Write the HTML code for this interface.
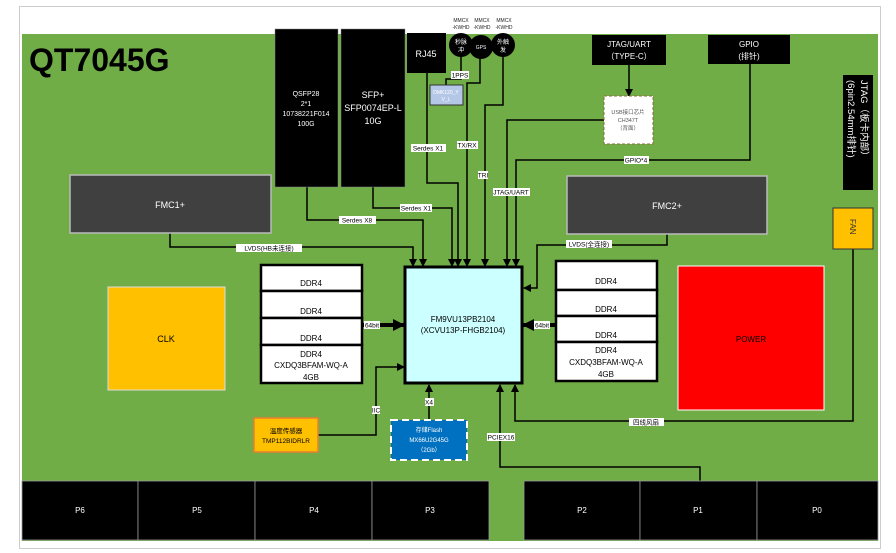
<!DOCTYPE html>
<html><head><meta charset="utf-8"><style>
body{margin:0;background:#fff}
svg{display:block;font-family:"Liberation Sans","Noto Sans CJK SC",sans-serif}
</style></head><body>
<svg width="896" height="553" viewBox="0 0 896 553">
<defs>
<marker id="a" markerWidth="8" markerHeight="8" refX="7" refY="4" orient="auto" markerUnits="userSpaceOnUse"><path d="M0,0 L8,4 L0,8 z" fill="#000"/></marker>
<marker id="b" markerWidth="12" markerHeight="12" refX="11" refY="6" orient="auto" markerUnits="userSpaceOnUse"><path d="M0,0 L12,6 L0,12 z" fill="#000"/></marker>
</defs>
<rect x="19.5" y="6.5" width="861" height="542" fill="#fff" stroke="#ccc"/>
<rect x="22" y="34" width="856" height="507" fill="#70ad47"/>
<text x="29" y="71" font-size="32" font-weight="bold" fill="#000">QT7045G</text>

<g stroke="#000" stroke-width="1.5" fill="none">
<polyline points="170,233 170,247 413,247 413,266" marker-end="url(#a)"/>
<polyline points="307,187 307,220 423,220 423,266" marker-end="url(#a)"/>
<polyline points="373,187 373,208 452,208 452,266" marker-end="url(#a)"/>
<polyline points="427,73 427,183 458,183 458,266" marker-end="url(#a)"/>
<polyline points="480,56 480,83 467,83 467,266" marker-end="url(#a)"/>
<polyline points="461,56 461,79 446,79 446,85"/>
<polyline points="503,56 503,105 485,105 485,266" marker-end="url(#a)"/>
<polyline points="604,120 507,120 507,266" marker-end="url(#a)"/>
<polyline points="750,64 750,160 516,160 516,266" marker-end="url(#a)"/>
<polyline points="629,65 629,96" marker-end="url(#a)"/>
<polyline points="667,234 667,245 537,245 537,288 524,288" marker-end="url(#a)"/>
<polyline points="318,435 376,435 376,367 404,367" marker-end="url(#a)"/>
<polyline points="429,420 429,385" marker-end="url(#a)"/>
<polyline points="700,481 700,467 500,467 500,385" marker-end="url(#a)"/>
<polyline points="853,249 853,421 515,421 515,385" marker-end="url(#a)"/>
</g>
<line x1="362" y1="325" x2="404" y2="325" stroke="#000" stroke-width="4" marker-end="url(#b)"/>
<line x1="556" y1="325" x2="523" y2="325" stroke="#000" stroke-width="4" marker-end="url(#b)"/>

<rect x="275" y="29" width="63" height="158" fill="#000" stroke="#888" stroke-width="0.5"/>
<g fill="#fff" font-size="7" text-anchor="middle"><text x="306" y="96">QSFP28</text><text x="306" y="106">2*1</text><text x="306" y="116">10738221F014</text><text x="306" y="126">100G</text></g>
<rect x="341" y="29" width="64" height="158" fill="#000" stroke="#888" stroke-width="0.5"/>
<g fill="#fff" font-size="9" text-anchor="middle"><text x="373" y="98">SFP+</text><text x="373" y="111">SFP0074EP-L</text><text x="373" y="124">10G</text></g>
<rect x="407" y="33" width="39" height="40" fill="#000"/>
<text x="426" y="57" fill="#fff" font-size="9" text-anchor="middle">RJ45</text>
<g font-size="5" fill="#222" text-anchor="middle"><text x="461" y="22">MMCX</text><text x="461" y="29">-KWHD</text><text x="482" y="22">MMCX</text><text x="482" y="29">-KWHD</text><text x="504" y="22">MMCX</text><text x="504" y="29">-KWHD</text></g>
<circle cx="461" cy="45" r="12" fill="#000"/><circle cx="481" cy="47" r="12" fill="#000"/><circle cx="503" cy="45" r="12" fill="#000"/>
<g fill="#fff" font-size="6" text-anchor="middle"><text x="461" y="44">秒脉</text><text x="461" y="52">冲</text><text x="481" y="49" font-size="5">GPS</text><text x="503" y="44">外触</text><text x="503" y="52">发</text></g>
<rect x="430" y="85" width="33" height="20" fill="#b4c7e7" stroke="#333"/>
<g font-size="5" fill="#fff" text-anchor="middle"><text x="446" y="94">DMK120_Y</text><text x="446" y="101">V_L</text></g>

<rect x="592" y="35" width="74" height="30" fill="#000"/>
<g fill="#fff" font-size="8" text-anchor="middle"><text x="629" y="47">JTAG/UART</text><text x="629" y="59">（TYPE-C）</text></g>
<rect x="708" y="35" width="82" height="29" fill="#000"/>
<g fill="#fff" font-size="8" text-anchor="middle"><text x="749" y="47">GPIO</text><text x="749" y="59">(排针)</text></g>
<rect x="604" y="96" width="49" height="48" fill="#fff" stroke="#8a6d3b" stroke-dasharray="3,2"/>
<g font-size="5.5" fill="#555" text-anchor="middle"><text x="628" y="114">USB接口芯片</text><text x="628" y="122">CH347T</text><text x="628" y="130">（背面）</text></g>
<rect x="843" y="75" width="30" height="115" fill="#000"/>
<text transform="translate(861,80) rotate(90)" fill="#fff" font-size="9.5">JTAG（板卡内部）</text>
<text transform="translate(848,80) rotate(90)" fill="#fff" font-size="9.5">(6pin2.54mm排针)</text>
<rect x="833" y="208" width="40" height="41" fill="#ffc000" stroke="#333"/>
<text transform="translate(850,219) rotate(90)" font-size="8" fill="#333">FAN</text>

<rect x="70" y="175" width="201" height="58" fill="#404040" stroke="#bbb" stroke-width="1.5"/>
<text x="170" y="208" fill="#fff" font-size="9" text-anchor="middle">FMC1+</text>
<rect x="567" y="176" width="200" height="58" fill="#404040" stroke="#bbb" stroke-width="1.5"/>
<text x="667" y="209" fill="#fff" font-size="9" text-anchor="middle">FMC2+</text>

<rect x="405" y="267" width="117" height="116" fill="#ccffff" stroke="#000" stroke-width="3"/>
<g font-size="8" text-anchor="middle"><text x="463" y="322">FM9VU13PB2104</text><text x="463" y="333">(XCVU13P-FHGB2104)</text></g>

<g fill="#fff" stroke="#000" stroke-width="2.5">
<rect x="261" y="265" width="101" height="26"/><rect x="261" y="291" width="101" height="27"/><rect x="261" y="318" width="101" height="27"/><rect x="261" y="345" width="101" height="38"/>
<rect x="556" y="261" width="101" height="29"/><rect x="556" y="290" width="101" height="26"/><rect x="556" y="316" width="101" height="26"/><rect x="556" y="342" width="101" height="39"/>
</g>
<g font-size="8" text-anchor="middle">
<text x="311" y="286">DDR4</text><text x="311" y="314">DDR4</text><text x="311" y="341">DDR4</text><text x="311" y="357">DDR4</text><text x="311" y="368">CXDQ3BFAM-WQ-A</text><text x="311" y="380">4GB</text>
<text x="606" y="284">DDR4</text><text x="606" y="312">DDR4</text><text x="606" y="338">DDR4</text><text x="606" y="353">DDR4</text><text x="606" y="365">CXDQ3BFAM-WQ-A</text><text x="606" y="377">4GB</text>
</g>

<rect x="108" y="287" width="117" height="103" fill="#ffc000" stroke="#ddd"/>
<text x="166" y="342" font-size="9" text-anchor="middle">CLK</text>
<rect x="678" y="266" width="146" height="144" fill="#f00" stroke="#fff"/>
<text x="751" y="342" font-size="8" text-anchor="middle">POWER</text>
<rect x="254" y="418" width="64" height="34" fill="#ffc000" stroke="#ed7d31" stroke-width="1.5"/>
<g font-size="6.5" text-anchor="middle"><text x="286" y="433">温度传感器</text><text x="286" y="443">TMP112BIDRLR</text></g>
<rect x="391" y="420" width="76" height="40" fill="#0070c0" stroke="#fff" stroke-width="2" stroke-dasharray="7,4"/>
<g font-size="6" fill="#fff" text-anchor="middle"><text x="429" y="432">存储Flash</text><text x="429" y="442">MX66U2G45G</text><text x="429" y="452">（2Gb）</text></g>

<g font-size="6.5" text-anchor="middle">
<rect x="236" y="244" width="66" height="8" fill="#fff"/><text x="269" y="250.5">LVDS(HB未连接)</text>
<rect x="339" y="216" width="37" height="8" fill="#fff"/><text x="357" y="222.5">Serdes X8</text>
<rect x="400" y="204" width="32" height="8" fill="#fff"/><text x="416" y="210.5">Serdes X1</text>
<rect x="411" y="144" width="35" height="8" fill="#fff"/><text x="428" y="150.5">Serdes X1</text>
<rect x="451" y="71" width="18" height="8" fill="#fff"/><text x="460" y="77.5">1PPS</text>
<rect x="457" y="141" width="21" height="8" fill="#fff"/><text x="467" y="147.5">TX/RX</text>
<rect x="478" y="171" width="10" height="8" fill="#fff"/><text x="483" y="177.5">TRI</text>
<rect x="493" y="188" width="37" height="8" fill="#fff"/><text x="511" y="194.5">JTAG/UART</text>
<rect x="624" y="156" width="25" height="8" fill="#fff"/><text x="636" y="162.5">GPIO*4</text>
<rect x="566" y="240" width="46" height="8" fill="#fff"/><text x="589" y="246.5">LVDS(全连接)</text>
<rect x="364" y="321" width="16" height="8" fill="#fff"/><text x="372" y="327.5">64bit</text>
<rect x="534" y="321" width="16" height="8" fill="#fff"/><text x="542" y="327.5">64bit</text>
<rect x="372" y="406" width="8" height="8" fill="#fff"/><text x="376" y="412.5">IIC</text>
<rect x="425" y="398" width="9" height="8" fill="#fff"/><text x="429" y="404.5">X4</text>
<rect x="487" y="433" width="28" height="8" fill="#fff"/><text x="501" y="439.5">PCIEX16</text>
<rect x="629" y="418" width="35" height="8" fill="#fff"/><text x="646" y="424.5">四线风扇</text>
</g>

<g fill="#000" stroke="#999" stroke-width="0.8">
<rect x="22" y="481" width="116" height="59"/><rect x="138" y="481" width="117" height="59"/><rect x="255" y="481" width="117" height="59"/><rect x="372" y="481" width="117" height="59"/>
<rect x="524" y="481" width="116" height="59"/><rect x="640" y="481" width="117" height="59"/><rect x="757" y="481" width="121" height="59"/>
</g>
<g fill="#fff" font-size="8" text-anchor="middle">
<text x="80" y="513">P6</text><text x="197" y="513">P5</text><text x="314" y="513">P4</text><text x="430" y="513">P3</text><text x="582" y="513">P2</text><text x="698" y="513">P1</text><text x="817" y="513">P0</text>
</g>
</svg>
</body></html>
